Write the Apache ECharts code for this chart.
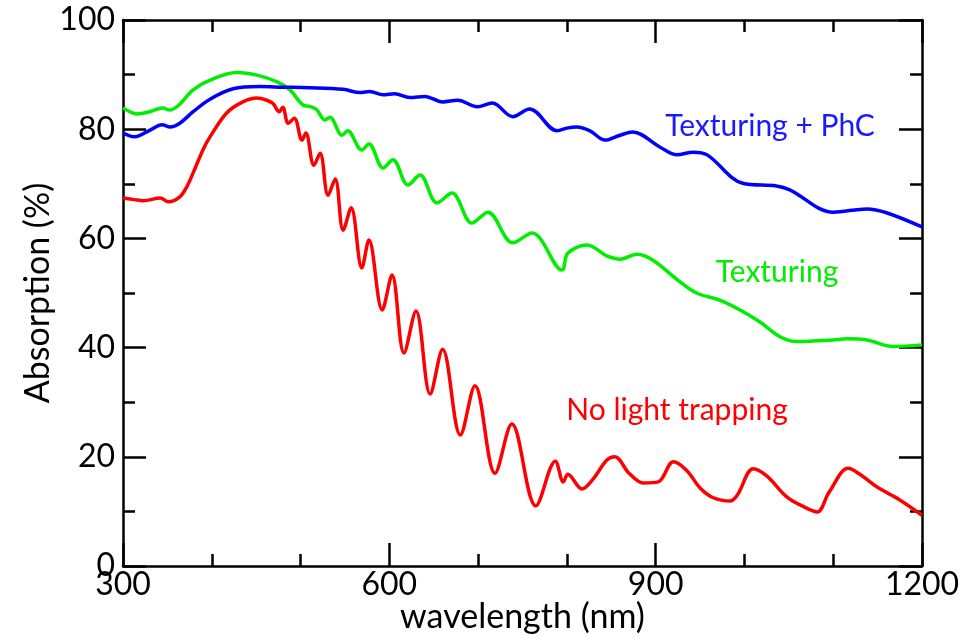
<!DOCTYPE html>
<html>
<head>
<meta charset="utf-8">
<script src="https://cdn.jsdelivr.net/npm/echarts@6/dist/echarts.min.js"></script>
<style>
html,body{margin:0;padding:0;background:#fff;}
#c{width:968px;height:638px;}
</style>
</head>
<body>
<div id="c"></div>
<script>
// ---- data ----
const redWl  = [300,313,323,342,351,364,372,379,390,398,417,435,451,462,469,476,480,486,493,501.6,506,515,522,531,539,548,557,569,577,592,603,616.5,630,646,660,680,696.5,719,738,765,787,796,801,817,829,845,854,870,886,903,920,935,950,965,984,992,1010,1025,1048,1065,1082,1095,1117,1130,1149,1175,1200];
const redAbs = [67.4,67.1,66.9,67.4,66.7,67.6,69.5,72,76.2,78.6,83,85,85.7,85.3,84.7,83.2,84,81.1,82,78,79.3,73.4,75.6,67.9,70.9,61.5,65.6,54.6,59.7,46.9,53.3,39,46.7,31.5,39.7,24,33,17,26,11,19.2,15.4,16.8,14.1,15.8,19.4,20,17,15.2,15.4,19.1,17.5,14.3,12.5,11.9,13,17.8,16.5,12.6,11,9.9,13.4,17.9,16.8,14.5,12.1,9.3];

const greenWl  = [300,316,330,345,352,362,379,398,428,451,473,488,503,510,518,527.5,533,546.7,553,569,577,593,604,621,634.5,653.7,670.6,693,711,739,760.7,794.5,801,822.6,845,860,879,897,927,946,972,995,1017.5,1040,1059,1077,1100,1115,1138,1167,1200];
const greenAbs = [83.9,82.8,83.2,83.9,83.5,84.3,87.2,89,90.4,89.9,88.7,87.2,84.4,84.2,83.6,81.7,82.2,78.9,79.7,76.2,77.3,72.9,74.4,69.8,71.6,66.5,68.3,62.8,64.8,59.2,61,54.2,57.3,58.8,56.8,56.2,57.1,56,52.1,50,48.7,46.9,44.7,42,41.1,41.2,41.4,41.6,41.4,40.2,40.5];

const blueWl  = [300,313,330,344,353,364,379,398,424,454,480,510,548,567,578,593,606,623,640,660,677,699,716,739,758,789,800,811,826,843,860,874,905,924,942,958,998,1036,1051,1100,1138,1160,1200];
const blueAbs = [79.3,78.6,79.8,80.8,80.4,81.1,83.2,85.5,87.4,87.8,87.7,87.6,87.3,86.7,86.9,86.3,86.5,85.8,86,85,85.3,84.1,84.8,82.3,83.7,79.7,80.2,80.4,79.7,78,78.9,79.5,76.7,75.3,75.8,75.3,70.1,69.6,68.9,64.8,65.4,64.7,62.1];

const xTicks = [300,600,900,1200];
const yTicks = [0,20,40,60,80,100];
const labels = ["Texturing + PhC","Texturing","No light trapping"];

// ---- chart ----
const FONT = "Lato";
const pair = (xs, ys) => xs.map((x,i)=>[x, ys[i]]);
const chart = echarts.init(document.getElementById('c'));

const axisBase = {
  axisLine:{show:true,onZero:false,lineStyle:{color:'#000',width:2.5}},
  axisTick:{show:true,inside:true,length:23,lineStyle:{color:'#000',width:2.5}},
  minorTick:{show:true,length:12,lineStyle:{color:'#000',width:2.5}},
  splitLine:{show:false},
  minorSplitLine:{show:false}
};

chart.setOption({
  backgroundColor:'#fff',
  animation:false,
  grid:{left:123,right:46,top:20,bottom:72,containLabel:false,outerBoundsMode:'none'},
  xAxis:[
    Object.assign({}, axisBase, {
      type:'value', min:xTicks[0], max:xTicks[xTicks.length-1], interval:300, position:'bottom',
      minorTick:Object.assign({}, axisBase.minorTick, {splitNumber:3}),
      axisLabel:{color:'#000',fontFamily:FONT,fontSize:32,margin:3,formatter:v=>String(v)},
      name:'wavelength (nm)', nameLocation:'middle', nameGap:34, nameMoveOverlap:false,
      nameTextStyle:{color:'#000',fontFamily:FONT,fontSize:34}
    }),
    Object.assign({}, axisBase, {
      type:'value', min:300, max:1200, interval:300, position:'top',
      minorTick:Object.assign({}, axisBase.minorTick, {splitNumber:3}),
      axisLabel:{show:false}
    })
  ],
  yAxis:[
    Object.assign({}, axisBase, {
      type:'value', min:yTicks[0], max:yTicks[yTicks.length-1], interval:20, position:'left',
      minorTick:Object.assign({}, axisBase.minorTick, {splitNumber:2}),
      axisLabel:{color:'#000',fontFamily:FONT,fontSize:32,margin:8,formatter:v=>String(v)},
      name:'Absorption (%)', nameLocation:'middle', nameGap:68, nameMoveOverlap:false,
      nameTextStyle:{color:'#000',fontFamily:FONT,fontSize:34}
    }),
    Object.assign({}, axisBase, {
      type:'value', min:0, max:100, interval:20, position:'right',
      minorTick:Object.assign({}, axisBase.minorTick, {splitNumber:2}),
      axisLabel:{show:false}
    })
  ],
  series:[
    {type:'line',name:labels[2],data:pair(redWl,redAbs),showSymbol:false,smooth:0.35,
     lineStyle:{color:'#ff0000',width:3.5},itemStyle:{color:'#ff0000'},z:3},
    {type:'line',name:labels[1],data:pair(greenWl,greenAbs),showSymbol:false,smooth:0.35,
     lineStyle:{color:'#00ee00',width:3.5},itemStyle:{color:'#00ee00'},z:2},
    {type:'line',name:labels[0],data:pair(blueWl,blueAbs),showSymbol:false,smooth:0.35,
     lineStyle:{color:'#0000ff',width:3.5},itemStyle:{color:'#0000ff'},z:4}
  ],
  graphic:[
    {type:'text',x:770,y:126,style:{text:labels[0],fill:'#1a1aff',font:'30px '+FONT,textAlign:'center',textVerticalAlign:'middle'}},
    {type:'text',x:777,y:272,style:{text:labels[1],fill:'#00ee00',font:'30px '+FONT,textAlign:'center',textVerticalAlign:'middle'}},
    {type:'text',x:677,y:410,style:{text:labels[2],fill:'#ff0000',font:'30px '+FONT,textAlign:'center',textVerticalAlign:'middle'}}
  ]
});
</script>
</body>
</html>
